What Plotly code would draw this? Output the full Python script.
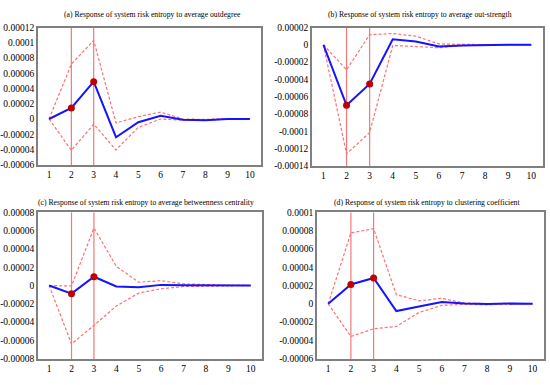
import plotly.graph_objects as go

periods = [1, 2, 3, 4, 5, 6, 7, 8, 9, 10]

titles = [
    "(a) Response of system risk entropy to average outdegree",
    "(b) Response of system risk entropy to average out-strength",
    "(c) Response of system risk entropy to average betweenness centrality",
    "(d) Response of system risk entropy to clustering coefficient",
]

a_mid = [0, 0.0000145, 0.000049, -0.0000239, -0.0000043, 0.0000043, -0.000001, -0.0000015, 0, 0]
a_up = [0, 0.000072, 0.000103, -0.000005, 0.000003, 0.000009, 0, -0.0000005, 0.0000005, 0]
a_lo = [0, -0.000041, -0.0000068, -0.0000405, -0.000011, 0, -0.0000015, -0.0000015, -0.0000003, 0]

b_mid = [0, -0.00007, -0.0000453, 0.0000064, 0.0000038, -0.0000019, -0.0000008, 0, 0, 0]
b_up = [0, -0.000029, 0.0000117, 0.000013, 0.00001, 0.000001, 0.0000005, 0, 0, 0]
b_lo = [0, -0.000126, -0.0001015, -0.0000008, -0.000002, -0.0000034, -0.000001, 0, 0, 0]

c_mid = [0, -0.0000089, 0.0000096, -0.000001, -0.0000018, 0.0000007, 0.0000004, 0, 0, 0]
c_up = [0, -0.0000005, 0.0000629, 0.000021, 0.0000036, 0.0000053, 0.0000018, 0.0000007, 0.0000003, 0]
c_lo = [0, -0.000064, -0.0000437, -0.0000224, -0.0000082, -0.0000036, -0.0000011, -0.0000005, -0.0000003, 0]

d_mid = [0, 0.0000211, 0.0000282, -0.000008, -0.000003, 0.0000019, 0.0000004, -0.0000003, 0.0000002, 0]
d_up = [0, 0.0000776, 0.0000822, 0.00001, 0.0000033, 0.000006, 0.0000008, 0.0000002, 0.0000005, 0]
d_lo = [0, -0.0000358, -0.0000273, -0.0000248, -0.0000095, -0.0000017, -0.0000006, -0.000001, -0.0000003, 0]

a_ticks = [0.00012, 0.0001, 0.00008, 0.00006, 0.00004, 0.00002, 0, -0.00002, -0.00004, -0.00006]
a_ticklabels = ["0.00012", "0.0001", "0.00008", "0.00006", "0.00004", "0.00002", "0", "-0.00002", "-0.00004", "-0.00006"]
b_ticks = [0.00002, 0, -0.00002, -0.00004, -0.00006, -0.00008, -0.0001, -0.00012, -0.00014]
b_ticklabels = ["0.00002", "0", "-0.00002", "-0.00004", "-0.00006", "-0.00008", "-0.0001", "-0.00012", "-0.00014"]
c_ticks = [0.00008, 0.00006, 0.00004, 0.00002, 0, -0.00002, -0.00004, -0.00006, -0.00008]
c_ticklabels = ["0.00008", "0.00006", "0.00004", "0.00002", "0", "-0.00002", "-0.00004", "-0.00006", "-0.00008"]
d_ticks = [0.0001, 0.00008, 0.00006, 0.00004, 0.00002, 0, -0.00002, -0.00004, -0.00006]
d_ticklabels = ["0.0001", "0.00008", "0.00006", "0.00004", "0.00002", "0", "-0.00002", "-0.00004", "-0.00006"]

marked_periods = [2, 3]

panels = [
    dict(mid=a_mid, up=a_up, lo=a_lo, ticks=a_ticks, labels=a_ticklabels,
         xd=[0.0655, 0.4727], yd=[0.574, 0.940], yr=[-0.00006, 0.00012], tx=151, ty=10),
    dict(mid=b_mid, up=b_up, lo=b_lo, ticks=b_ticks, labels=b_ticklabels,
         xd=[0.5655, 0.987], yd=[0.571, 0.940], yr=[-0.00014, 0.00002], tx=420, ty=10),
    dict(mid=c_mid, up=c_up, lo=c_lo, ticks=c_ticks, labels=c_ticklabels,
         xd=[0.0655, 0.4745], yd=[0.0571, 0.4468], yr=[-0.00008, 0.00008], tx=144.5, ty=203),
    dict(mid=d_mid, up=d_up, lo=d_lo, ticks=d_ticks, labels=d_ticklabels,
         xd=[0.5745, 0.989], yd=[0.0571, 0.4468], yr=[-0.00006, 0.0001], tx=427, ty=203),
]

FONT = "Liberation Serif, Times New Roman, serif"
fig = go.Figure()
layout = dict(
    width=550, height=385, margin=dict(l=0, r=0, t=0, b=0),
    paper_bgcolor="white", plot_bgcolor="white", showlegend=False, hovermode=False,
    font=dict(family=FONT, size=9.5, color="black"),
)
shapes = []
annotations = []

for i, p in enumerate(panels):
    n = "" if i == 0 else str(i + 1)
    xa, ya = "x" + n, "y" + n
    for ser in (p["up"], p["lo"]):
        fig.add_trace(go.Scatter(x=periods, y=ser, mode="lines", xaxis=xa, yaxis=ya,
                                 line=dict(color="#ff7070", width=1.2, dash="3px,2px")))
    fig.add_trace(go.Scatter(x=periods, y=p["mid"], mode="lines", xaxis=xa, yaxis=ya,
                             line=dict(color="#1414ff", width=2)))
    mx = [x for x in periods if x in marked_periods]
    my = [p["mid"][periods.index(x)] for x in mx]
    fig.add_trace(go.Scatter(x=mx, y=my, mode="markers", xaxis=xa, yaxis=ya,
                             marker=dict(color="#c00000", size=7)))
    layout["xaxis" + n] = dict(domain=p["xd"], anchor=ya, range=[0.5, 10.5],
                               tickvals=periods, ticktext=[str(v) for v in periods],
                               showgrid=False, zeroline=False, showline=True, mirror=True,
                               linecolor="#808080", linewidth=1.5, ticks="", ticklen=0)
    layout["yaxis" + n] = dict(domain=p["yd"], anchor=xa, range=p["yr"],
                               tickvals=p["ticks"], ticktext=p["labels"],
                               showgrid=False, zeroline=False, showline=True, mirror=True,
                               linecolor="#808080", linewidth=1.5, ticks="", ticklen=0)
    for xv in marked_periods:
        shapes.append(dict(type="line", xref=xa, yref=ya + " domain", x0=xv, x1=xv,
                           y0=-0.01, y1=1.0, line=dict(color="#f07a7a", width=1.2),
                           layer="below"))
    annotations.append(dict(text=titles[i], xref="paper", yref="paper",
                            x=p["tx"] / 550, y=1 - p["ty"] / 385,
                            xanchor="center", yanchor="middle", showarrow=False,
                            font=dict(family=FONT, size=7.7, color="black")))

layout["shapes"] = shapes
layout["annotations"] = annotations
fig.update_layout(**layout)
fig.write_html("out.html", config={"displayModeBar": False},
               post_script="document.body.style.margin='0';document.body.style.padding='0';")
